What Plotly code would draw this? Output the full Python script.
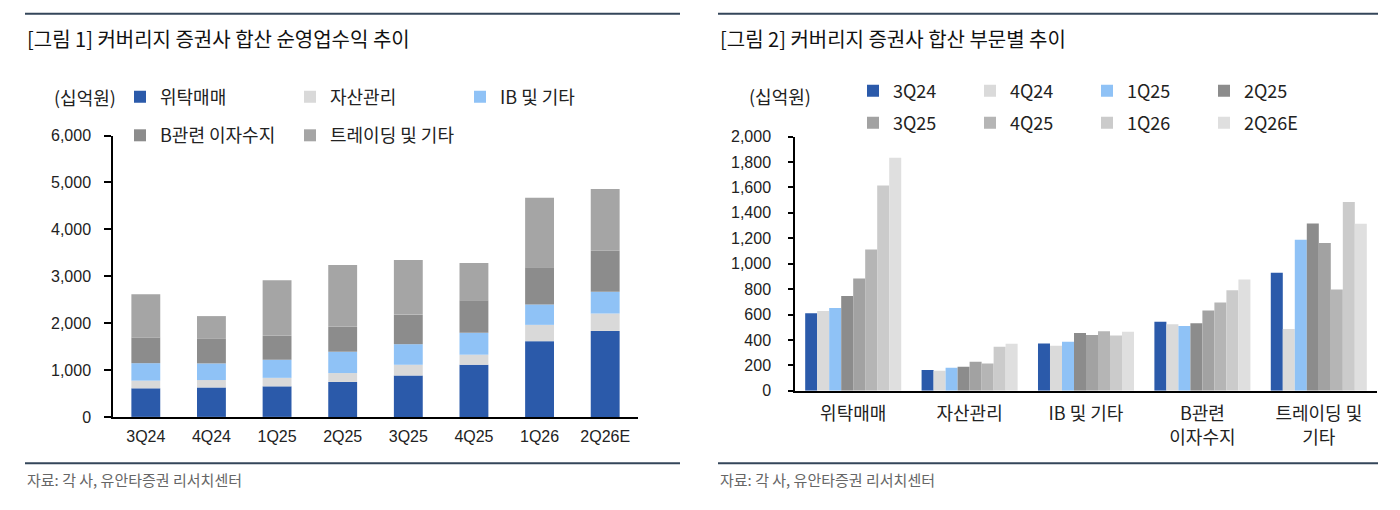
import plotly.graph_objects as go
import numpy as np

# ---------------- data ----------------
quarters = ["3Q24", "4Q24", "1Q25", "2Q25", "3Q25", "4Q25", "1Q26", "2Q26E"]
segments = ["위탁매매", "자산관리", "IB 및 기타", "B관련 이자수지", "트레이딩 및 기타"]
segment_ticks = ["위탁매매", "자산관리", "IB 및 기타", "B관련<br>이자수지", "트레이딩 및<br>기타"]

brokerage = [610, 628, 652, 746, 883, 1112, 1616, 1834]
asset_mgmt = [163, 158, 181, 189, 229, 215, 347, 371]
ib_other = [373, 355, 386, 455, 439, 468, 436, 465]
ib_interest = [544, 523, 510, 531, 631, 694, 791, 875]
trading = [928, 486, 1188, 1317, 1162, 796, 1485, 1314]

series = [brokerage, asset_mgmt, ib_other, ib_interest, trading]

left_y_ticks = [0, 1000, 2000, 3000, 4000, 5000, 6000]
right_y_ticks = [0, 200, 400, 600, 800, 1000, 1200, 1400, 1600, 1800, 2000]

# ---------------- styles ----------------
seg_colors = ["#2b5aaa", "#d9d9d9", "#8fc2f6", "#8c8c8c", "#a5a5a5"]
q_colors = ["#2b5aaa", "#dadada", "#8fc2f6", "#8c8c8c", "#a2a2a2", "#b5b5b5", "#cbcbcb", "#dfdfdf"]
FONT = "Liberation Sans, Noto Sans CJK KR, sans-serif"
KFONT = "Noto Sans CJK KR, sans-serif"
W, H = 1400, 510


def px(x):
    return x / W


def py(y):
    return 1 - y / H


fig = go.Figure()

# left: stacked bars
base = np.zeros(len(quarters))
for i, (name, vals, col) in enumerate(zip(segments, series, seg_colors)):
    fig.add_trace(go.Bar(
        x=quarters, y=vals, base=base.copy(), name=name, marker_color=col,
        marker_line_width=0, width=0.44, offsetgroup="stack",
        xaxis="x", yaxis="y", legend="legend" if i < 3 else "legend2",
    ))
    base = base + np.array(vals)

# right: grouped bars
for qi, (q, col) in enumerate(zip(quarters, q_colors)):
    fig.add_trace(go.Bar(
        x=segments, y=[s[qi] for s in series], name=q, marker_color=col,
        marker_line_width=0, offsetgroup=q,
        xaxis="x2", yaxis="y2", legend="legend3" if qi < 4 else "legend4",
    ))

axis_common = dict(showgrid=False, zeroline=False, showline=True, linecolor="#000000",
                   linewidth=1.5, tickfont=dict(family=FONT, size=16, color="#222"))

legend_common = dict(orientation="h", bgcolor="rgba(0,0,0,0)", borderwidth=0,
                     font=dict(family=KFONT, size=18, color="#222"), itemwidth=30,
                     xanchor="left", yanchor="middle", entrywidthmode="pixels",
                     traceorder="normal", itemclick=False, itemdoubleclick=False)

fig.update_layout(
    width=W, height=H, margin=dict(l=0, r=0, t=0, b=0),
    paper_bgcolor="white", plot_bgcolor="white",
    barmode="group", bargap=0.175, bargroupgap=0,
    showlegend=True,
    xaxis=dict(domain=[px(113), px(638)], anchor="y", ticks="", type="category",
               ticklabelstandoff=4, **axis_common),
    yaxis=dict(domain=[py(423), py(132)], anchor="x", range=[0, 6000], tickvals=left_y_ticks,
               tickformat=",", ticks="outside", ticklen=7, tickwidth=1.5, tickcolor="#000",
               ticklabelstandoff=10, **axis_common),
    xaxis2=dict(domain=[px(795), px(1377)], anchor="y2", ticks="", type="category",
                tickvals=segments, ticktext=segment_ticks, ticklabelstandoff=6,
                **{**axis_common, "tickfont": dict(family=KFONT, size=18, color="#222")}),
    yaxis2=dict(domain=[py(396), py(133)], anchor="x2", range=[0, 2000], tickvals=right_y_ticks,
                tickformat=",", ticks="outside", ticklen=5, tickwidth=1.5, tickcolor="#000",
                ticklabelstandoff=14, **axis_common),
    legend=dict(x=px(120), y=py(92), entrywidth=125, **legend_common),
    legend2=dict(x=px(120), y=py(132), entrywidth=125, **legend_common),
    legend3=dict(x=px(853), y=py(86), entrywidth=72, **legend_common),
    legend4=dict(x=px(853), y=py(119), entrywidth=72, **legend_common),
)

# decorative rules
for x0, x1 in [(25, 680), (718, 1378)]:
    for yy in (6, 471):
        fig.add_shape(type="line", xref="paper", yref="paper", x0=px(x0), x1=px(x1),
                      y0=py(yy), y1=py(yy), line=dict(color="#34465a", width=2))

# titles, units, sources
texts = [
    (25, 32, "[그림 1] 커버리지 증권사 합산 순영업수익 추이", 20, "#111", "left"),
    (718, 32, "[그림 2] 커버리지 증권사 합산 부문별 추이", 20, "#111", "left"),
    (85, 92, "(십억원)", 18, "#222", "center"),
    (780, 91, "(십억원)", 18, "#222", "center"),
    (25, 488, "자료: 각 사, 유안타증권 리서치센터", 15, "#666", "left"),
    (718, 488, "자료: 각 사, 유안타증권 리서치센터", 15, "#666", "left"),
]
for x, y, t, s, c, anc in texts:
    fig.add_annotation(x=px(x), y=py(y), xref="paper", yref="paper", text=t, showarrow=False,
                       xanchor=anc, yanchor="middle", font=dict(family=KFONT, size=s, color=c))

fig.write_html("out.html")
